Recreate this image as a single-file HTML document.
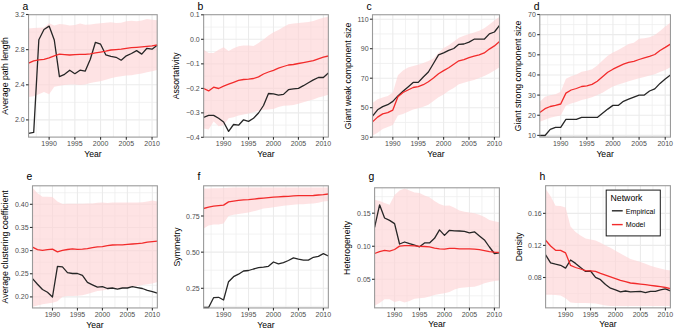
<!DOCTYPE html>
<html><head><meta charset="utf-8"><style>
html,body{margin:0;padding:0;background:#fff;}
svg{display:block;}
text{font-family:"Liberation Sans", sans-serif;}
</style></head><body>
<svg width="675" height="330" viewBox="0 0 675 330">
<rect width="675" height="330" fill="#fff"/>
<rect x="28.55" y="14.7" width="128.65" height="122.4" fill="#fff"/>
<line x1="28.55" x2="157.2" y1="102.35" y2="102.35" stroke="#efefef" stroke-width="0.8"/>
<line x1="28.55" x2="157.2" y1="67.22" y2="67.22" stroke="#efefef" stroke-width="0.8"/>
<line x1="28.55" x2="157.2" y1="32.08" y2="32.08" stroke="#efefef" stroke-width="0.8"/>
<line y1="14.7" y2="137.1" x1="36.27" x2="36.27" stroke="#efefef" stroke-width="0.8"/>
<line y1="14.7" y2="137.1" x1="62" x2="62" stroke="#efefef" stroke-width="0.8"/>
<line y1="14.7" y2="137.1" x1="87.73" x2="87.73" stroke="#efefef" stroke-width="0.8"/>
<line y1="14.7" y2="137.1" x1="113.46" x2="113.46" stroke="#efefef" stroke-width="0.8"/>
<line y1="14.7" y2="137.1" x1="139.19" x2="139.19" stroke="#efefef" stroke-width="0.8"/>
<line x1="28.55" x2="157.2" y1="119.9" y2="119.9" stroke="#ebebeb" stroke-width="1.1"/>
<line x1="28.55" x2="157.2" y1="84.8" y2="84.8" stroke="#ebebeb" stroke-width="1.1"/>
<line x1="28.55" x2="157.2" y1="49.65" y2="49.65" stroke="#ebebeb" stroke-width="1.1"/>
<line y1="14.7" y2="137.1" x1="49.13" x2="49.13" stroke="#ebebeb" stroke-width="1.1"/>
<line y1="14.7" y2="137.1" x1="74.86" x2="74.86" stroke="#ebebeb" stroke-width="1.1"/>
<line y1="14.7" y2="137.1" x1="100.59" x2="100.59" stroke="#ebebeb" stroke-width="1.1"/>
<line y1="14.7" y2="137.1" x1="126.32" x2="126.32" stroke="#ebebeb" stroke-width="1.1"/>
<line y1="14.7" y2="137.1" x1="152.05" x2="152.05" stroke="#ebebeb" stroke-width="1.1"/>
<polygon points="28.55,28.4 33.7,28.1 38.84,27.8 43.99,27.6 49.13,23.2 54.28,25.6 59.43,24 64.57,24.5 69.72,25.4 74.86,24.9 80.01,23.4 85.16,24.7 90.3,24.5 95.45,23.7 100.59,23.2 105.74,22.7 110.89,22.2 116.03,22.9 121.18,22.7 126.32,21.3 131.47,20.8 136.62,21.3 141.76,20.6 146.91,19 152.05,19.8 157.2,20.3 157.2,70 152.05,71.2 146.91,72.3 141.76,73.5 136.62,74.2 131.47,75.3 126.32,75.5 121.18,76.2 116.03,77 110.89,78.3 105.74,79.8 100.59,81.2 95.45,81.9 90.3,83 85.16,84.6 80.01,85 74.86,84.6 69.72,84.6 64.57,85 59.43,85.8 54.28,86.8 49.13,94.3 43.99,92 38.84,94.3 33.7,96.2 28.55,97.1" fill="#fdd4d5" fill-opacity="0.65"/>
<polyline points="28.55,133.3 33.7,132.4 38.84,39.7 43.99,29.5 49.13,26.1 54.28,40 59.43,76.6 64.57,74.3 69.72,70.2 74.86,73.7 80.01,70.2 85.16,71.2 90.3,59.3 95.45,42.3 100.59,44.2 105.74,54.8 110.89,56.4 116.03,57.3 121.18,60.2 126.32,55.8 131.47,53.5 136.62,50.6 141.76,54.1 146.91,48.3 152.05,49.2 157.2,45.2" fill="none" stroke="#262626" stroke-width="1.3" stroke-linejoin="round"/>
<polyline points="28.55,63.1 33.7,60.8 38.84,59.8 43.99,59.3 49.13,57.9 54.28,55.8 59.43,54.1 64.57,54.6 69.72,55 74.86,54.6 80.01,54.4 85.16,54.4 90.3,53.9 95.45,52.9 100.59,52.1 105.74,51.2 110.89,50 116.03,49.6 121.18,49.1 126.32,48.3 131.47,47.7 136.62,47.3 141.76,46.9 146.91,46.4 152.05,45.8 157.2,45" fill="none" stroke="#f22b2b" stroke-width="1.3" stroke-linejoin="round"/>
<rect x="28.55" y="14.7" width="128.65" height="122.4" fill="none" stroke="#9a9a9a" stroke-width="1.1"/>
<line x1="25.95" x2="28.55" y1="119.9" y2="119.9" stroke="#333333" stroke-width="1.1"/>
<text x="24.65" y="122.4" text-anchor="end" font-size="7" fill="#4d4d4d">2.0</text>
<line x1="25.95" x2="28.55" y1="84.8" y2="84.8" stroke="#333333" stroke-width="1.1"/>
<text x="24.65" y="87.3" text-anchor="end" font-size="7" fill="#4d4d4d">2.4</text>
<line x1="25.95" x2="28.55" y1="49.65" y2="49.65" stroke="#333333" stroke-width="1.1"/>
<text x="24.65" y="52.15" text-anchor="end" font-size="7" fill="#4d4d4d">2.8</text>
<line x1="25.95" x2="28.55" y1="14.5" y2="14.5" stroke="#333333" stroke-width="1.1"/>
<text x="24.65" y="17" text-anchor="end" font-size="7" fill="#4d4d4d">3.2</text>
<line y1="137.1" y2="139.7" x1="49.13" x2="49.13" stroke="#333333" stroke-width="1.1"/>
<text x="49.13" y="146.4" text-anchor="middle" font-size="7" fill="#4d4d4d">1990</text>
<line y1="137.1" y2="139.7" x1="74.86" x2="74.86" stroke="#333333" stroke-width="1.1"/>
<text x="74.86" y="146.4" text-anchor="middle" font-size="7" fill="#4d4d4d">1995</text>
<line y1="137.1" y2="139.7" x1="100.59" x2="100.59" stroke="#333333" stroke-width="1.1"/>
<text x="100.59" y="146.4" text-anchor="middle" font-size="7" fill="#4d4d4d">2000</text>
<line y1="137.1" y2="139.7" x1="126.32" x2="126.32" stroke="#333333" stroke-width="1.1"/>
<text x="126.32" y="146.4" text-anchor="middle" font-size="7" fill="#4d4d4d">2005</text>
<line y1="137.1" y2="139.7" x1="152.05" x2="152.05" stroke="#333333" stroke-width="1.1"/>
<text x="152.05" y="146.4" text-anchor="middle" font-size="7" fill="#4d4d4d">2010</text>
<text x="92.88" y="156.7" text-anchor="middle" font-size="8.6" fill="#000">Year</text>
<text transform="translate(8.2,75.9) rotate(-90)" text-anchor="middle" font-size="8.7" fill="#000">Average path length</text>
<text x="22.45" y="9.9" font-size="10.4" fill="#000">a</text>
<rect x="203.65" y="14.7" width="124.7" height="122.4" fill="#fff"/>
<line x1="203.65" x2="328.35" y1="125.08" y2="125.08" stroke="#efefef" stroke-width="0.8"/>
<line x1="203.65" x2="328.35" y1="100.62" y2="100.62" stroke="#efefef" stroke-width="0.8"/>
<line x1="203.65" x2="328.35" y1="76.12" y2="76.12" stroke="#efefef" stroke-width="0.8"/>
<line x1="203.65" x2="328.35" y1="51.58" y2="51.58" stroke="#efefef" stroke-width="0.8"/>
<line x1="203.65" x2="328.35" y1="27.05" y2="27.05" stroke="#efefef" stroke-width="0.8"/>
<line y1="14.7" y2="137.1" x1="211.13" x2="211.13" stroke="#efefef" stroke-width="0.8"/>
<line y1="14.7" y2="137.1" x1="236.07" x2="236.07" stroke="#efefef" stroke-width="0.8"/>
<line y1="14.7" y2="137.1" x1="261.01" x2="261.01" stroke="#efefef" stroke-width="0.8"/>
<line y1="14.7" y2="137.1" x1="285.95" x2="285.95" stroke="#efefef" stroke-width="0.8"/>
<line y1="14.7" y2="137.1" x1="310.89" x2="310.89" stroke="#efefef" stroke-width="0.8"/>
<line x1="203.65" x2="328.35" y1="112.85" y2="112.85" stroke="#ebebeb" stroke-width="1.1"/>
<line x1="203.65" x2="328.35" y1="88.4" y2="88.4" stroke="#ebebeb" stroke-width="1.1"/>
<line x1="203.65" x2="328.35" y1="63.85" y2="63.85" stroke="#ebebeb" stroke-width="1.1"/>
<line x1="203.65" x2="328.35" y1="39.3" y2="39.3" stroke="#ebebeb" stroke-width="1.1"/>
<line y1="14.7" y2="137.1" x1="223.6" x2="223.6" stroke="#ebebeb" stroke-width="1.1"/>
<line y1="14.7" y2="137.1" x1="248.54" x2="248.54" stroke="#ebebeb" stroke-width="1.1"/>
<line y1="14.7" y2="137.1" x1="273.48" x2="273.48" stroke="#ebebeb" stroke-width="1.1"/>
<line y1="14.7" y2="137.1" x1="298.42" x2="298.42" stroke="#ebebeb" stroke-width="1.1"/>
<line y1="14.7" y2="137.1" x1="323.36" x2="323.36" stroke="#ebebeb" stroke-width="1.1"/>
<polygon points="203.65,49.7 208.64,52.9 213.63,52.9 218.61,49.7 223.6,47.2 228.59,51 233.58,48.2 238.57,46.3 243.55,45.4 248.54,45.4 253.53,45.9 258.52,43.1 263.51,39.4 268.49,35.6 273.48,32.2 278.47,30 283.46,27.1 288.45,24.3 293.43,23.4 298.42,23 303.41,22.5 308.4,21.9 313.39,21.1 318.37,19.3 323.36,17.8 328.35,16.8 328.35,94.8 323.36,96.3 318.37,97.6 313.39,99.5 308.4,100.8 303.41,102.3 298.42,103.8 293.43,105.1 288.45,105.5 283.46,105.7 278.47,107 273.48,108.9 268.49,109.4 263.51,109.8 258.52,110.7 253.53,112.2 248.54,113.6 243.55,114.5 238.57,115.4 233.58,117.3 228.59,118.3 223.6,125.2 218.61,126.3 213.63,121.4 208.64,129.5 203.65,128.6" fill="#fdd4d5" fill-opacity="0.65"/>
<polyline points="203.65,117.3 208.64,115.4 213.63,115.4 218.61,118.3 223.6,122 228.59,131.4 233.58,124.5 238.57,125.2 243.55,119.8 248.54,121.4 253.53,118.3 258.52,113 263.51,105.5 268.49,93.5 273.48,93.9 278.47,95.1 283.46,94.4 288.45,89.7 293.43,88.9 298.42,88.3 303.41,85.7 308.4,82.7 313.39,79.9 318.37,77.5 323.36,77.5 328.35,73" fill="none" stroke="#262626" stroke-width="1.3" stroke-linejoin="round"/>
<polyline points="203.65,88.5 208.64,90.9 213.63,87.2 218.61,88.5 223.6,86.1 228.59,84.2 233.58,82.3 238.57,80.4 243.55,79.5 248.54,79.1 253.53,78.5 258.52,76.9 263.51,74 268.49,72 273.48,70.3 278.47,68.2 283.46,66.5 288.45,65 293.43,64.5 298.42,63.5 303.41,62.6 308.4,61.6 313.39,60.7 318.37,58.8 323.36,57.1 328.35,56" fill="none" stroke="#f22b2b" stroke-width="1.3" stroke-linejoin="round"/>
<rect x="203.65" y="14.7" width="124.7" height="122.4" fill="none" stroke="#9a9a9a" stroke-width="1.1"/>
<line x1="201.05" x2="203.65" y1="137.3" y2="137.3" stroke="#333333" stroke-width="1.1"/>
<text x="199.75" y="139.8" text-anchor="end" font-size="7" fill="#4d4d4d">−0.4</text>
<line x1="201.05" x2="203.65" y1="112.85" y2="112.85" stroke="#333333" stroke-width="1.1"/>
<text x="199.75" y="115.35" text-anchor="end" font-size="7" fill="#4d4d4d">−0.3</text>
<line x1="201.05" x2="203.65" y1="88.4" y2="88.4" stroke="#333333" stroke-width="1.1"/>
<text x="199.75" y="90.9" text-anchor="end" font-size="7" fill="#4d4d4d">−0.2</text>
<line x1="201.05" x2="203.65" y1="63.85" y2="63.85" stroke="#333333" stroke-width="1.1"/>
<text x="199.75" y="66.35" text-anchor="end" font-size="7" fill="#4d4d4d">−0.1</text>
<line x1="201.05" x2="203.65" y1="39.3" y2="39.3" stroke="#333333" stroke-width="1.1"/>
<text x="199.75" y="41.8" text-anchor="end" font-size="7" fill="#4d4d4d">0.0</text>
<line x1="201.05" x2="203.65" y1="14.8" y2="14.8" stroke="#333333" stroke-width="1.1"/>
<text x="199.75" y="17.3" text-anchor="end" font-size="7" fill="#4d4d4d">0.1</text>
<line y1="137.1" y2="139.7" x1="223.6" x2="223.6" stroke="#333333" stroke-width="1.1"/>
<text x="223.6" y="146.4" text-anchor="middle" font-size="7" fill="#4d4d4d">1990</text>
<line y1="137.1" y2="139.7" x1="248.54" x2="248.54" stroke="#333333" stroke-width="1.1"/>
<text x="248.54" y="146.4" text-anchor="middle" font-size="7" fill="#4d4d4d">1995</text>
<line y1="137.1" y2="139.7" x1="273.48" x2="273.48" stroke="#333333" stroke-width="1.1"/>
<text x="273.48" y="146.4" text-anchor="middle" font-size="7" fill="#4d4d4d">2000</text>
<line y1="137.1" y2="139.7" x1="298.42" x2="298.42" stroke="#333333" stroke-width="1.1"/>
<text x="298.42" y="146.4" text-anchor="middle" font-size="7" fill="#4d4d4d">2005</text>
<line y1="137.1" y2="139.7" x1="323.36" x2="323.36" stroke="#333333" stroke-width="1.1"/>
<text x="323.36" y="146.4" text-anchor="middle" font-size="7" fill="#4d4d4d">2010</text>
<text x="266" y="156.7" text-anchor="middle" font-size="8.6" fill="#000">Year</text>
<text transform="translate(179,75.9) rotate(-90)" text-anchor="middle" font-size="8.7" fill="#000">Assortativity</text>
<text x="197.55" y="9.9" font-size="10.4" fill="#000">b</text>
<rect x="372.5" y="14.75" width="127" height="122.35" fill="#fff"/>
<line x1="372.5" x2="499.5" y1="122.45" y2="122.45" stroke="#efefef" stroke-width="0.8"/>
<line x1="372.5" x2="499.5" y1="92.95" y2="92.95" stroke="#efefef" stroke-width="0.8"/>
<line x1="372.5" x2="499.5" y1="63.45" y2="63.45" stroke="#efefef" stroke-width="0.8"/>
<line x1="372.5" x2="499.5" y1="33.95" y2="33.95" stroke="#efefef" stroke-width="0.8"/>
<line y1="14.75" y2="137.1" x1="380.12" x2="380.12" stroke="#efefef" stroke-width="0.8"/>
<line y1="14.75" y2="137.1" x1="405.52" x2="405.52" stroke="#efefef" stroke-width="0.8"/>
<line y1="14.75" y2="137.1" x1="430.92" x2="430.92" stroke="#efefef" stroke-width="0.8"/>
<line y1="14.75" y2="137.1" x1="456.32" x2="456.32" stroke="#efefef" stroke-width="0.8"/>
<line y1="14.75" y2="137.1" x1="481.72" x2="481.72" stroke="#efefef" stroke-width="0.8"/>
<line x1="372.5" x2="499.5" y1="107.7" y2="107.7" stroke="#ebebeb" stroke-width="1.1"/>
<line x1="372.5" x2="499.5" y1="78.2" y2="78.2" stroke="#ebebeb" stroke-width="1.1"/>
<line x1="372.5" x2="499.5" y1="48.7" y2="48.7" stroke="#ebebeb" stroke-width="1.1"/>
<line x1="372.5" x2="499.5" y1="19.2" y2="19.2" stroke="#ebebeb" stroke-width="1.1"/>
<line y1="14.75" y2="137.1" x1="392.82" x2="392.82" stroke="#ebebeb" stroke-width="1.1"/>
<line y1="14.75" y2="137.1" x1="418.22" x2="418.22" stroke="#ebebeb" stroke-width="1.1"/>
<line y1="14.75" y2="137.1" x1="443.62" x2="443.62" stroke="#ebebeb" stroke-width="1.1"/>
<line y1="14.75" y2="137.1" x1="469.02" x2="469.02" stroke="#ebebeb" stroke-width="1.1"/>
<line y1="14.75" y2="137.1" x1="494.42" x2="494.42" stroke="#ebebeb" stroke-width="1.1"/>
<polygon points="372.5,103 377.58,99.2 382.66,97.5 387.74,96 392.82,92.5 397.9,75.2 402.98,70.4 408.06,67.6 413.14,66.1 418.22,64.8 423.3,63 428.38,61 433.46,58.6 438.54,52.9 443.62,48.1 448.7,45.3 453.78,41.5 458.86,37.7 463.94,35.8 469.02,33.9 474.1,32.4 479.18,30.7 484.26,28.2 489.34,24.4 494.42,20.6 499.5,16.8 499.5,67.3 494.42,70.6 489.34,73.5 484.26,76.1 479.18,78 474.1,79.9 469.02,81.2 463.94,82.8 458.86,84.3 453.78,88.1 448.7,90.8 443.62,94.4 438.54,97.2 433.46,101 428.38,104.8 423.3,106.7 418.22,108.2 413.14,109.6 408.06,111.8 402.98,114 397.9,115.5 392.82,125.1 387.74,127 382.66,128.9 377.58,132.7 372.5,135.5" fill="#fdd4d5" fill-opacity="0.65"/>
<polyline points="372.5,116.2 377.58,109.8 382.66,106.6 387.74,104.7 392.82,101.4 397.9,95.9 402.98,91.3 408.06,86.9 413.14,82.4 418.22,82.4 423.3,77 428.38,72 433.46,63.5 438.54,54.8 443.62,52.9 448.7,50.4 453.78,48.5 458.86,44.3 463.94,44 469.02,42.1 474.1,39.2 479.18,39.2 484.26,39.2 489.34,33.9 494.42,32 499.5,25.4" fill="none" stroke="#262626" stroke-width="1.3" stroke-linejoin="round"/>
<polyline points="372.5,121.9 377.58,117.1 382.66,113.9 387.74,112.6 392.82,110.1 397.9,96.8 402.98,92.5 408.06,90 413.14,87.5 418.22,86.6 423.3,84.7 428.38,81.8 433.46,78 438.54,73.7 443.62,70.6 448.7,67.8 453.78,64.3 458.86,60.8 463.94,59.6 469.02,57.6 474.1,56.1 479.18,54.8 484.26,52.9 489.34,49.1 494.42,45.9 499.5,41.5" fill="none" stroke="#f22b2b" stroke-width="1.3" stroke-linejoin="round"/>
<rect x="372.5" y="14.75" width="127" height="122.35" fill="none" stroke="#9a9a9a" stroke-width="1.1"/>
<line x1="369.9" x2="372.5" y1="137.2" y2="137.2" stroke="#333333" stroke-width="1.1"/>
<text x="368.6" y="139.7" text-anchor="end" font-size="7" fill="#4d4d4d">30</text>
<line x1="369.9" x2="372.5" y1="107.7" y2="107.7" stroke="#333333" stroke-width="1.1"/>
<text x="368.6" y="110.2" text-anchor="end" font-size="7" fill="#4d4d4d">50</text>
<line x1="369.9" x2="372.5" y1="78.2" y2="78.2" stroke="#333333" stroke-width="1.1"/>
<text x="368.6" y="80.7" text-anchor="end" font-size="7" fill="#4d4d4d">70</text>
<line x1="369.9" x2="372.5" y1="48.7" y2="48.7" stroke="#333333" stroke-width="1.1"/>
<text x="368.6" y="51.2" text-anchor="end" font-size="7" fill="#4d4d4d">90</text>
<line x1="369.9" x2="372.5" y1="19.2" y2="19.2" stroke="#333333" stroke-width="1.1"/>
<text x="368.6" y="21.7" text-anchor="end" font-size="7" fill="#4d4d4d">110</text>
<line y1="137.1" y2="139.7" x1="392.82" x2="392.82" stroke="#333333" stroke-width="1.1"/>
<text x="392.82" y="146.4" text-anchor="middle" font-size="7" fill="#4d4d4d">1990</text>
<line y1="137.1" y2="139.7" x1="418.22" x2="418.22" stroke="#333333" stroke-width="1.1"/>
<text x="418.22" y="146.4" text-anchor="middle" font-size="7" fill="#4d4d4d">1995</text>
<line y1="137.1" y2="139.7" x1="443.62" x2="443.62" stroke="#333333" stroke-width="1.1"/>
<text x="443.62" y="146.4" text-anchor="middle" font-size="7" fill="#4d4d4d">2000</text>
<line y1="137.1" y2="139.7" x1="469.02" x2="469.02" stroke="#333333" stroke-width="1.1"/>
<text x="469.02" y="146.4" text-anchor="middle" font-size="7" fill="#4d4d4d">2005</text>
<line y1="137.1" y2="139.7" x1="494.42" x2="494.42" stroke="#333333" stroke-width="1.1"/>
<text x="494.42" y="146.4" text-anchor="middle" font-size="7" fill="#4d4d4d">2010</text>
<text x="436" y="156.7" text-anchor="middle" font-size="8.6" fill="#000">Year</text>
<text transform="translate(350.7,75.92) rotate(-90)" text-anchor="middle" font-size="8.7" fill="#000">Giant weak component size</text>
<text x="366.4" y="9.9" font-size="10.4" fill="#000">c</text>
<rect x="539.8" y="14.75" width="130.65" height="122.35" fill="#fff"/>
<line x1="539.8" x2="670.45" y1="125.33" y2="125.33" stroke="#efefef" stroke-width="0.8"/>
<line x1="539.8" x2="670.45" y1="105.17" y2="105.17" stroke="#efefef" stroke-width="0.8"/>
<line x1="539.8" x2="670.45" y1="85.03" y2="85.03" stroke="#efefef" stroke-width="0.8"/>
<line x1="539.8" x2="670.45" y1="64.88" y2="64.88" stroke="#efefef" stroke-width="0.8"/>
<line x1="539.8" x2="670.45" y1="44.72" y2="44.72" stroke="#efefef" stroke-width="0.8"/>
<line x1="539.8" x2="670.45" y1="24.57" y2="24.57" stroke="#efefef" stroke-width="0.8"/>
<line y1="14.75" y2="137.1" x1="547.64" x2="547.64" stroke="#efefef" stroke-width="0.8"/>
<line y1="14.75" y2="137.1" x1="573.77" x2="573.77" stroke="#efefef" stroke-width="0.8"/>
<line y1="14.75" y2="137.1" x1="599.9" x2="599.9" stroke="#efefef" stroke-width="0.8"/>
<line y1="14.75" y2="137.1" x1="626.03" x2="626.03" stroke="#efefef" stroke-width="0.8"/>
<line y1="14.75" y2="137.1" x1="652.16" x2="652.16" stroke="#efefef" stroke-width="0.8"/>
<line x1="539.8" x2="670.45" y1="135.4" y2="135.4" stroke="#ebebeb" stroke-width="1.1"/>
<line x1="539.8" x2="670.45" y1="115.25" y2="115.25" stroke="#ebebeb" stroke-width="1.1"/>
<line x1="539.8" x2="670.45" y1="95.1" y2="95.1" stroke="#ebebeb" stroke-width="1.1"/>
<line x1="539.8" x2="670.45" y1="74.95" y2="74.95" stroke="#ebebeb" stroke-width="1.1"/>
<line x1="539.8" x2="670.45" y1="54.8" y2="54.8" stroke="#ebebeb" stroke-width="1.1"/>
<line x1="539.8" x2="670.45" y1="34.65" y2="34.65" stroke="#ebebeb" stroke-width="1.1"/>
<line y1="14.75" y2="137.1" x1="560.7" x2="560.7" stroke="#ebebeb" stroke-width="1.1"/>
<line y1="14.75" y2="137.1" x1="586.83" x2="586.83" stroke="#ebebeb" stroke-width="1.1"/>
<line y1="14.75" y2="137.1" x1="612.96" x2="612.96" stroke="#ebebeb" stroke-width="1.1"/>
<line y1="14.75" y2="137.1" x1="639.09" x2="639.09" stroke="#ebebeb" stroke-width="1.1"/>
<line y1="14.75" y2="137.1" x1="665.22" x2="665.22" stroke="#ebebeb" stroke-width="1.1"/>
<polygon points="539.8,101.8 545.03,96.8 550.25,95.3 555.48,94.3 560.7,91.8 565.93,78.8 571.16,76.2 576.38,74.5 581.61,71.7 586.83,70.8 592.06,69.3 597.29,65.4 602.51,60.6 607.74,55.7 612.96,52.4 618.19,49.9 623.42,47 628.64,44.1 633.87,42.7 639.09,38.8 644.32,38.3 649.55,37.3 654.77,35 660,31.1 665.22,26.6 670.45,22.7 670.45,67.2 665.22,70 660,72 654.77,74.2 649.55,75.5 644.32,76.9 639.09,78.3 633.87,79.7 628.64,81.3 623.42,83 618.19,84.6 612.96,86.6 607.74,89.6 602.51,92.7 597.29,95.1 592.06,97.2 586.83,98.8 581.61,99.9 576.38,101.9 571.16,103.4 565.93,105.6 560.7,115.4 555.48,116.4 550.25,117.8 545.03,119.8 539.8,121.8" fill="#fdd4d5" fill-opacity="0.65"/>
<polyline points="539.8,135.5 545.03,135.5 550.25,129.3 555.48,127.3 560.7,127.3 565.93,119.4 571.16,119.4 576.38,119.4 581.61,117.4 586.83,117.4 592.06,117.4 597.29,117.4 602.51,113.3 607.74,109.1 612.96,105.4 618.19,105.4 623.42,101.3 628.64,99.2 633.87,97.2 639.09,95.1 644.32,95.1 649.55,91 654.77,88.9 660,83.4 665.22,79 670.45,75" fill="none" stroke="#262626" stroke-width="1.3" stroke-linejoin="round"/>
<polyline points="539.8,112.6 545.03,108.7 550.25,106.5 555.48,105.4 560.7,104 565.93,93.1 571.16,90 576.38,88.5 581.61,86.5 586.83,85.9 592.06,84.4 597.29,81.3 602.51,76.8 607.74,72.3 612.96,69.2 618.19,66.6 623.42,64.2 628.64,62.3 633.87,61.3 639.09,59.5 644.32,57.8 649.55,56.3 654.77,54.5 660,50.5 665.22,47.4 670.45,44.1" fill="none" stroke="#f22b2b" stroke-width="1.3" stroke-linejoin="round"/>
<rect x="539.8" y="14.75" width="130.65" height="122.35" fill="none" stroke="#9a9a9a" stroke-width="1.1"/>
<line x1="537.2" x2="539.8" y1="135.4" y2="135.4" stroke="#333333" stroke-width="1.1"/>
<text x="535.9" y="137.9" text-anchor="end" font-size="7" fill="#4d4d4d">10</text>
<line x1="537.2" x2="539.8" y1="115.25" y2="115.25" stroke="#333333" stroke-width="1.1"/>
<text x="535.9" y="117.75" text-anchor="end" font-size="7" fill="#4d4d4d">20</text>
<line x1="537.2" x2="539.8" y1="95.1" y2="95.1" stroke="#333333" stroke-width="1.1"/>
<text x="535.9" y="97.6" text-anchor="end" font-size="7" fill="#4d4d4d">30</text>
<line x1="537.2" x2="539.8" y1="74.95" y2="74.95" stroke="#333333" stroke-width="1.1"/>
<text x="535.9" y="77.45" text-anchor="end" font-size="7" fill="#4d4d4d">40</text>
<line x1="537.2" x2="539.8" y1="54.8" y2="54.8" stroke="#333333" stroke-width="1.1"/>
<text x="535.9" y="57.3" text-anchor="end" font-size="7" fill="#4d4d4d">50</text>
<line x1="537.2" x2="539.8" y1="34.65" y2="34.65" stroke="#333333" stroke-width="1.1"/>
<text x="535.9" y="37.15" text-anchor="end" font-size="7" fill="#4d4d4d">60</text>
<line x1="537.2" x2="539.8" y1="14.5" y2="14.5" stroke="#333333" stroke-width="1.1"/>
<text x="535.9" y="17" text-anchor="end" font-size="7" fill="#4d4d4d">70</text>
<line y1="137.1" y2="139.7" x1="560.7" x2="560.7" stroke="#333333" stroke-width="1.1"/>
<text x="560.7" y="146.4" text-anchor="middle" font-size="7" fill="#4d4d4d">1990</text>
<line y1="137.1" y2="139.7" x1="586.83" x2="586.83" stroke="#333333" stroke-width="1.1"/>
<text x="586.83" y="146.4" text-anchor="middle" font-size="7" fill="#4d4d4d">1995</text>
<line y1="137.1" y2="139.7" x1="612.96" x2="612.96" stroke="#333333" stroke-width="1.1"/>
<text x="612.96" y="146.4" text-anchor="middle" font-size="7" fill="#4d4d4d">2000</text>
<line y1="137.1" y2="139.7" x1="639.09" x2="639.09" stroke="#333333" stroke-width="1.1"/>
<text x="639.09" y="146.4" text-anchor="middle" font-size="7" fill="#4d4d4d">2005</text>
<line y1="137.1" y2="139.7" x1="665.22" x2="665.22" stroke="#333333" stroke-width="1.1"/>
<text x="665.22" y="146.4" text-anchor="middle" font-size="7" fill="#4d4d4d">2010</text>
<text x="605.12" y="156.7" text-anchor="middle" font-size="8.6" fill="#000">Year</text>
<text transform="translate(521.1,75.92) rotate(-90)" text-anchor="middle" font-size="8.7" fill="#000">Giant strong component size</text>
<text x="533.7" y="9.9" font-size="10.4" fill="#000">d</text>
<rect x="32.5" y="185.8" width="124.85" height="122.15" fill="#fff"/>
<line x1="32.5" x2="157.35" y1="285.32" y2="285.32" stroke="#efefef" stroke-width="0.8"/>
<line x1="32.5" x2="157.35" y1="262.18" y2="262.18" stroke="#efefef" stroke-width="0.8"/>
<line x1="32.5" x2="157.35" y1="239.02" y2="239.02" stroke="#efefef" stroke-width="0.8"/>
<line x1="32.5" x2="157.35" y1="215.88" y2="215.88" stroke="#efefef" stroke-width="0.8"/>
<line x1="32.5" x2="157.35" y1="192.73" y2="192.73" stroke="#efefef" stroke-width="0.8"/>
<line y1="185.8" y2="307.95" x1="39.99" x2="39.99" stroke="#efefef" stroke-width="0.8"/>
<line y1="185.8" y2="307.95" x1="64.96" x2="64.96" stroke="#efefef" stroke-width="0.8"/>
<line y1="185.8" y2="307.95" x1="89.93" x2="89.93" stroke="#efefef" stroke-width="0.8"/>
<line y1="185.8" y2="307.95" x1="114.9" x2="114.9" stroke="#efefef" stroke-width="0.8"/>
<line y1="185.8" y2="307.95" x1="139.87" x2="139.87" stroke="#efefef" stroke-width="0.8"/>
<line x1="32.5" x2="157.35" y1="296.9" y2="296.9" stroke="#ebebeb" stroke-width="1.1"/>
<line x1="32.5" x2="157.35" y1="273.75" y2="273.75" stroke="#ebebeb" stroke-width="1.1"/>
<line x1="32.5" x2="157.35" y1="250.6" y2="250.6" stroke="#ebebeb" stroke-width="1.1"/>
<line x1="32.5" x2="157.35" y1="227.45" y2="227.45" stroke="#ebebeb" stroke-width="1.1"/>
<line x1="32.5" x2="157.35" y1="204.3" y2="204.3" stroke="#ebebeb" stroke-width="1.1"/>
<line y1="185.8" y2="307.95" x1="52.48" x2="52.48" stroke="#ebebeb" stroke-width="1.1"/>
<line y1="185.8" y2="307.95" x1="77.45" x2="77.45" stroke="#ebebeb" stroke-width="1.1"/>
<line y1="185.8" y2="307.95" x1="102.42" x2="102.42" stroke="#ebebeb" stroke-width="1.1"/>
<line y1="185.8" y2="307.95" x1="127.39" x2="127.39" stroke="#ebebeb" stroke-width="1.1"/>
<line y1="185.8" y2="307.95" x1="152.36" x2="152.36" stroke="#ebebeb" stroke-width="1.1"/>
<polygon points="32.5,187.8 37.49,193.3 42.49,196.8 47.48,196.8 52.48,196.9 57.47,201.5 62.46,204.1 67.46,203.8 72.45,203.8 77.45,203.8 82.44,203.8 87.43,203.6 92.43,203.4 97.42,202.8 102.42,202.5 107.41,203 112.4,202.5 117.4,202.5 122.39,202.5 127.39,202.5 132.38,202.5 137.37,202.5 142.37,202.3 147.36,201.5 152.36,200.4 157.35,201.5 157.35,282.1 152.36,283.4 147.36,284.3 142.37,285 137.37,285.9 132.38,287 127.39,287.7 122.39,288.5 117.4,288.7 112.4,288.7 107.41,289.6 102.42,290.5 97.42,290.9 92.43,292.4 87.43,293.9 82.44,295.2 77.45,295.8 72.45,296.1 67.46,296.1 62.46,296.7 57.47,301.3 52.48,302.7 47.48,303.4 42.49,304.2 37.49,305.4 32.5,306.7" fill="#fdd4d5" fill-opacity="0.65"/>
<polyline points="32.5,278.6 37.49,284.2 42.49,289.5 47.48,292.3 52.48,297 57.47,266.4 62.46,266.9 67.46,272.6 72.45,273.5 77.45,273.5 82.44,275.4 87.43,282.3 92.43,284.8 97.42,287.2 102.42,286.6 107.41,288.5 112.4,288 117.4,289.1 122.39,288 127.39,288 132.38,286.6 137.37,287.6 142.37,288.5 147.36,290.4 152.36,291.7 157.35,293.2" fill="none" stroke="#262626" stroke-width="1.3" stroke-linejoin="round"/>
<polyline points="32.5,247.2 37.49,249.6 42.49,250.4 47.48,249.6 52.48,249.1 57.47,251.9 62.46,250.4 67.46,249.5 72.45,248.9 77.45,249.3 82.44,249.1 87.43,248.7 92.43,247.6 97.42,246.8 102.42,246.6 107.41,245.7 112.4,245 117.4,244.8 122.39,244.8 127.39,244.4 132.38,244 137.37,243.6 142.37,243.1 147.36,242.1 152.36,241.6 157.35,241.2" fill="none" stroke="#f22b2b" stroke-width="1.3" stroke-linejoin="round"/>
<rect x="32.5" y="185.8" width="124.85" height="122.15" fill="none" stroke="#9a9a9a" stroke-width="1.1"/>
<line x1="29.9" x2="32.5" y1="296.9" y2="296.9" stroke="#333333" stroke-width="1.1"/>
<text x="28.6" y="299.4" text-anchor="end" font-size="7" fill="#4d4d4d">0.20</text>
<line x1="29.9" x2="32.5" y1="273.75" y2="273.75" stroke="#333333" stroke-width="1.1"/>
<text x="28.6" y="276.25" text-anchor="end" font-size="7" fill="#4d4d4d">0.25</text>
<line x1="29.9" x2="32.5" y1="250.6" y2="250.6" stroke="#333333" stroke-width="1.1"/>
<text x="28.6" y="253.1" text-anchor="end" font-size="7" fill="#4d4d4d">0.30</text>
<line x1="29.9" x2="32.5" y1="227.45" y2="227.45" stroke="#333333" stroke-width="1.1"/>
<text x="28.6" y="229.95" text-anchor="end" font-size="7" fill="#4d4d4d">0.35</text>
<line x1="29.9" x2="32.5" y1="204.3" y2="204.3" stroke="#333333" stroke-width="1.1"/>
<text x="28.6" y="206.8" text-anchor="end" font-size="7" fill="#4d4d4d">0.40</text>
<line y1="307.95" y2="310.55" x1="52.48" x2="52.48" stroke="#333333" stroke-width="1.1"/>
<text x="52.48" y="317.25" text-anchor="middle" font-size="7" fill="#4d4d4d">1990</text>
<line y1="307.95" y2="310.55" x1="77.45" x2="77.45" stroke="#333333" stroke-width="1.1"/>
<text x="77.45" y="317.25" text-anchor="middle" font-size="7" fill="#4d4d4d">1995</text>
<line y1="307.95" y2="310.55" x1="102.42" x2="102.42" stroke="#333333" stroke-width="1.1"/>
<text x="102.42" y="317.25" text-anchor="middle" font-size="7" fill="#4d4d4d">2000</text>
<line y1="307.95" y2="310.55" x1="127.39" x2="127.39" stroke="#333333" stroke-width="1.1"/>
<text x="127.39" y="317.25" text-anchor="middle" font-size="7" fill="#4d4d4d">2005</text>
<line y1="307.95" y2="310.55" x1="152.36" x2="152.36" stroke="#333333" stroke-width="1.1"/>
<text x="152.36" y="317.25" text-anchor="middle" font-size="7" fill="#4d4d4d">2010</text>
<text x="94.92" y="327.55" text-anchor="middle" font-size="8.6" fill="#000">Year</text>
<text transform="translate(8.2,246.88) rotate(-90)" text-anchor="middle" font-size="8.7" fill="#000">Average clustering coefficient</text>
<text x="26.4" y="180.1" font-size="10.4" fill="#000">e</text>
<rect x="203.6" y="185.8" width="124.75" height="122.15" fill="#fff"/>
<line x1="203.6" x2="328.35" y1="270.23" y2="270.23" stroke="#efefef" stroke-width="0.8"/>
<line x1="203.6" x2="328.35" y1="234.07" y2="234.07" stroke="#efefef" stroke-width="0.8"/>
<line x1="203.6" x2="328.35" y1="306.38" y2="306.38" stroke="#efefef" stroke-width="0.8"/>
<line x1="203.6" x2="328.35" y1="197.93" y2="197.93" stroke="#efefef" stroke-width="0.8"/>
<line y1="185.8" y2="307.95" x1="211.09" x2="211.09" stroke="#efefef" stroke-width="0.8"/>
<line y1="185.8" y2="307.95" x1="236.03" x2="236.03" stroke="#efefef" stroke-width="0.8"/>
<line y1="185.8" y2="307.95" x1="260.99" x2="260.99" stroke="#efefef" stroke-width="0.8"/>
<line y1="185.8" y2="307.95" x1="285.94" x2="285.94" stroke="#efefef" stroke-width="0.8"/>
<line y1="185.8" y2="307.95" x1="310.88" x2="310.88" stroke="#efefef" stroke-width="0.8"/>
<line x1="203.6" x2="328.35" y1="288.3" y2="288.3" stroke="#ebebeb" stroke-width="1.1"/>
<line x1="203.6" x2="328.35" y1="252.15" y2="252.15" stroke="#ebebeb" stroke-width="1.1"/>
<line x1="203.6" x2="328.35" y1="216" y2="216" stroke="#ebebeb" stroke-width="1.1"/>
<line y1="185.8" y2="307.95" x1="223.56" x2="223.56" stroke="#ebebeb" stroke-width="1.1"/>
<line y1="185.8" y2="307.95" x1="248.51" x2="248.51" stroke="#ebebeb" stroke-width="1.1"/>
<line y1="185.8" y2="307.95" x1="273.46" x2="273.46" stroke="#ebebeb" stroke-width="1.1"/>
<line y1="185.8" y2="307.95" x1="298.41" x2="298.41" stroke="#ebebeb" stroke-width="1.1"/>
<line y1="185.8" y2="307.95" x1="323.36" x2="323.36" stroke="#ebebeb" stroke-width="1.1"/>
<polygon points="203.6,188.4 208.59,188.4 213.58,188.3 218.57,188.2 223.56,188 228.55,187.7 233.54,187.6 238.53,187.6 243.52,187.6 248.51,187.6 253.5,187.6 258.49,187.6 263.48,187.6 268.47,187.6 273.46,187.6 278.45,187.6 283.44,187.6 288.43,187.6 293.42,187.6 298.41,187.6 303.4,187.6 308.39,187.6 313.38,187.6 318.37,187.6 323.36,187.6 328.35,187.6 328.35,201 323.36,201.5 318.37,202.8 313.38,203.4 308.39,203.8 303.4,204.2 298.41,204.3 293.42,204.7 288.43,205.3 283.44,205.7 278.45,206.6 273.46,207.2 268.47,207.9 263.48,208.5 258.49,210 253.5,211.3 248.51,212.6 243.52,213.2 238.53,214.1 233.54,214.7 228.55,216 223.56,223.5 218.57,224.4 213.58,224.4 208.59,225.4 203.6,228.6" fill="#fdd4d5" fill-opacity="0.65"/>
<polyline points="203.6,307.5 208.59,307.5 213.58,297.7 218.57,297.3 223.56,300 228.55,281.7 233.54,276.7 238.53,274.2 243.52,271 248.51,270.5 253.5,269 258.49,267.7 263.48,267.1 268.47,266.3 273.46,262 278.45,263.9 283.44,262.6 288.43,260.5 293.42,257.9 298.41,259.2 303.4,260.1 308.39,260.1 313.38,257.3 318.37,256.4 323.36,253.6 328.35,256" fill="none" stroke="#262626" stroke-width="1.3" stroke-linejoin="round"/>
<polyline points="203.6,208.5 208.59,207.2 213.58,206.2 218.57,205.7 223.56,205.1 228.55,201.9 233.54,201.2 238.53,200.4 243.52,199.8 248.51,199.6 253.5,199.1 258.49,198.5 263.48,198.1 268.47,197.6 273.46,197.2 278.45,196.8 283.44,196.5 288.43,196.3 293.42,195.9 298.41,195.7 303.4,195.7 308.39,195.7 313.38,195.5 318.37,195 323.36,194.6 328.35,194" fill="none" stroke="#f22b2b" stroke-width="1.3" stroke-linejoin="round"/>
<rect x="203.6" y="185.8" width="124.75" height="122.15" fill="none" stroke="#9a9a9a" stroke-width="1.1"/>
<line x1="201" x2="203.6" y1="288.3" y2="288.3" stroke="#333333" stroke-width="1.1"/>
<text x="199.7" y="290.8" text-anchor="end" font-size="7" fill="#4d4d4d">0.25</text>
<line x1="201" x2="203.6" y1="252.15" y2="252.15" stroke="#333333" stroke-width="1.1"/>
<text x="199.7" y="254.65" text-anchor="end" font-size="7" fill="#4d4d4d">0.50</text>
<line x1="201" x2="203.6" y1="216" y2="216" stroke="#333333" stroke-width="1.1"/>
<text x="199.7" y="218.5" text-anchor="end" font-size="7" fill="#4d4d4d">0.75</text>
<line y1="307.95" y2="310.55" x1="223.56" x2="223.56" stroke="#333333" stroke-width="1.1"/>
<text x="223.56" y="317.25" text-anchor="middle" font-size="7" fill="#4d4d4d">1990</text>
<line y1="307.95" y2="310.55" x1="248.51" x2="248.51" stroke="#333333" stroke-width="1.1"/>
<text x="248.51" y="317.25" text-anchor="middle" font-size="7" fill="#4d4d4d">1995</text>
<line y1="307.95" y2="310.55" x1="273.46" x2="273.46" stroke="#333333" stroke-width="1.1"/>
<text x="273.46" y="317.25" text-anchor="middle" font-size="7" fill="#4d4d4d">2000</text>
<line y1="307.95" y2="310.55" x1="298.41" x2="298.41" stroke="#333333" stroke-width="1.1"/>
<text x="298.41" y="317.25" text-anchor="middle" font-size="7" fill="#4d4d4d">2005</text>
<line y1="307.95" y2="310.55" x1="323.36" x2="323.36" stroke="#333333" stroke-width="1.1"/>
<text x="323.36" y="317.25" text-anchor="middle" font-size="7" fill="#4d4d4d">2010</text>
<text x="265.98" y="327.55" text-anchor="middle" font-size="8.6" fill="#000">Year</text>
<text transform="translate(179.6,246.88) rotate(-90)" text-anchor="middle" font-size="8.7" fill="#000">Symmetry</text>
<text x="197.5" y="180.1" font-size="10.4" fill="#000">f</text>
<rect x="374.6" y="187.8" width="124.8" height="120.05" fill="#fff"/>
<line x1="374.6" x2="499.4" y1="262.77" y2="262.77" stroke="#efefef" stroke-width="0.8"/>
<line x1="374.6" x2="499.4" y1="229.72" y2="229.72" stroke="#efefef" stroke-width="0.8"/>
<line x1="374.6" x2="499.4" y1="295.83" y2="295.83" stroke="#efefef" stroke-width="0.8"/>
<line x1="374.6" x2="499.4" y1="196.67" y2="196.67" stroke="#efefef" stroke-width="0.8"/>
<line y1="187.8" y2="307.85" x1="382.09" x2="382.09" stroke="#efefef" stroke-width="0.8"/>
<line y1="187.8" y2="307.85" x1="407.05" x2="407.05" stroke="#efefef" stroke-width="0.8"/>
<line y1="187.8" y2="307.85" x1="432.01" x2="432.01" stroke="#efefef" stroke-width="0.8"/>
<line y1="187.8" y2="307.85" x1="456.97" x2="456.97" stroke="#efefef" stroke-width="0.8"/>
<line y1="187.8" y2="307.85" x1="481.93" x2="481.93" stroke="#efefef" stroke-width="0.8"/>
<line x1="374.6" x2="499.4" y1="279.3" y2="279.3" stroke="#ebebeb" stroke-width="1.1"/>
<line x1="374.6" x2="499.4" y1="246.25" y2="246.25" stroke="#ebebeb" stroke-width="1.1"/>
<line x1="374.6" x2="499.4" y1="213.2" y2="213.2" stroke="#ebebeb" stroke-width="1.1"/>
<line y1="187.8" y2="307.85" x1="394.57" x2="394.57" stroke="#ebebeb" stroke-width="1.1"/>
<line y1="187.8" y2="307.85" x1="419.53" x2="419.53" stroke="#ebebeb" stroke-width="1.1"/>
<line y1="187.8" y2="307.85" x1="444.49" x2="444.49" stroke="#ebebeb" stroke-width="1.1"/>
<line y1="187.8" y2="307.85" x1="469.45" x2="469.45" stroke="#ebebeb" stroke-width="1.1"/>
<line y1="187.8" y2="307.85" x1="494.41" x2="494.41" stroke="#ebebeb" stroke-width="1.1"/>
<polygon points="374.6,199.8 379.59,201.1 384.58,203 389.58,204.8 394.57,194.9 399.56,190.4 404.55,188.5 409.54,190.4 414.54,192.6 419.53,193 424.52,195.5 429.51,197.3 434.5,201.1 439.5,203.9 444.49,205.8 449.48,205.4 454.47,207.7 459.46,210.5 464.46,211.8 469.45,212.4 474.44,213.3 479.43,214.8 484.42,217 489.42,219.9 494.41,221.2 499.4,222.3 499.4,280.5 494.41,280.9 489.42,282 484.42,283.3 479.43,285.2 474.44,286.7 469.45,287.1 464.46,287.4 459.46,288 454.47,289.5 449.48,292.1 444.49,293.2 439.5,294 434.5,295.1 429.51,296.4 424.52,297.7 419.53,298.3 414.54,298.8 409.54,301.1 404.55,302.6 399.56,300.7 394.57,302 389.58,299.2 384.58,299.2 379.59,302.9 374.6,305.7" fill="#fdd4d5" fill-opacity="0.65"/>
<polyline points="374.6,227.4 379.59,204.8 384.58,218 389.58,220.4 394.57,223.6 399.56,244 404.55,242 409.54,243.7 414.54,245.1 419.53,246.8 424.52,242.9 429.51,242.9 434.5,238.3 439.5,229.9 444.49,235.4 449.48,230.3 454.47,230.9 459.46,231 464.46,231.3 469.45,232.9 474.44,231.8 479.43,235.9 484.42,239.9 489.42,247 494.41,253.5 499.4,252.9" fill="none" stroke="#262626" stroke-width="1.3" stroke-linejoin="round"/>
<polyline points="374.6,253.5 379.59,251.6 384.58,250.3 389.58,251.2 394.57,249.5 399.56,246.1 404.55,245.6 409.54,245.6 414.54,245.9 419.53,246.3 424.52,246.5 429.51,246.9 434.5,248.2 439.5,248.8 444.49,249.2 449.48,248.4 454.47,248.4 459.46,248.8 464.46,248.8 469.45,248.8 474.44,249.2 479.43,249.7 484.42,250.7 489.42,251.6 494.41,252.2 499.4,252.5" fill="none" stroke="#f22b2b" stroke-width="1.3" stroke-linejoin="round"/>
<rect x="374.6" y="187.8" width="124.8" height="120.05" fill="none" stroke="#9a9a9a" stroke-width="1.1"/>
<line x1="372" x2="374.6" y1="279.3" y2="279.3" stroke="#333333" stroke-width="1.1"/>
<text x="370.7" y="281.8" text-anchor="end" font-size="7" fill="#4d4d4d">0.05</text>
<line x1="372" x2="374.6" y1="246.25" y2="246.25" stroke="#333333" stroke-width="1.1"/>
<text x="370.7" y="248.75" text-anchor="end" font-size="7" fill="#4d4d4d">0.10</text>
<line x1="372" x2="374.6" y1="213.2" y2="213.2" stroke="#333333" stroke-width="1.1"/>
<text x="370.7" y="215.7" text-anchor="end" font-size="7" fill="#4d4d4d">0.15</text>
<line y1="307.85" y2="310.45" x1="394.57" x2="394.57" stroke="#333333" stroke-width="1.1"/>
<text x="394.57" y="317.15" text-anchor="middle" font-size="7" fill="#4d4d4d">1990</text>
<line y1="307.85" y2="310.45" x1="419.53" x2="419.53" stroke="#333333" stroke-width="1.1"/>
<text x="419.53" y="317.15" text-anchor="middle" font-size="7" fill="#4d4d4d">1995</text>
<line y1="307.85" y2="310.45" x1="444.49" x2="444.49" stroke="#333333" stroke-width="1.1"/>
<text x="444.49" y="317.15" text-anchor="middle" font-size="7" fill="#4d4d4d">2000</text>
<line y1="307.85" y2="310.45" x1="469.45" x2="469.45" stroke="#333333" stroke-width="1.1"/>
<text x="469.45" y="317.15" text-anchor="middle" font-size="7" fill="#4d4d4d">2005</text>
<line y1="307.85" y2="310.45" x1="494.41" x2="494.41" stroke="#333333" stroke-width="1.1"/>
<text x="494.41" y="317.15" text-anchor="middle" font-size="7" fill="#4d4d4d">2010</text>
<text x="437" y="327.45" text-anchor="middle" font-size="8.6" fill="#000">Year</text>
<text transform="translate(350.1,247.83) rotate(-90)" text-anchor="middle" font-size="8.7" fill="#000">Heterogeneity</text>
<text x="368.5" y="180.1" font-size="10.4" fill="#000">g</text>
<rect x="545.6" y="185.7" width="124.8" height="122.15" fill="#fff"/>
<line x1="545.6" x2="670.4" y1="261.45" y2="261.45" stroke="#efefef" stroke-width="0.8"/>
<line x1="545.6" x2="670.4" y1="229.38" y2="229.38" stroke="#efefef" stroke-width="0.8"/>
<line x1="545.6" x2="670.4" y1="293.55" y2="293.55" stroke="#efefef" stroke-width="0.8"/>
<line x1="545.6" x2="670.4" y1="197.3" y2="197.3" stroke="#efefef" stroke-width="0.8"/>
<line y1="185.7" y2="307.85" x1="553.09" x2="553.09" stroke="#efefef" stroke-width="0.8"/>
<line y1="185.7" y2="307.85" x1="578.05" x2="578.05" stroke="#efefef" stroke-width="0.8"/>
<line y1="185.7" y2="307.85" x1="603.01" x2="603.01" stroke="#efefef" stroke-width="0.8"/>
<line y1="185.7" y2="307.85" x1="627.97" x2="627.97" stroke="#efefef" stroke-width="0.8"/>
<line y1="185.7" y2="307.85" x1="652.93" x2="652.93" stroke="#efefef" stroke-width="0.8"/>
<line x1="545.6" x2="670.4" y1="277.5" y2="277.5" stroke="#ebebeb" stroke-width="1.1"/>
<line x1="545.6" x2="670.4" y1="245.4" y2="245.4" stroke="#ebebeb" stroke-width="1.1"/>
<line x1="545.6" x2="670.4" y1="213.35" y2="213.35" stroke="#ebebeb" stroke-width="1.1"/>
<line y1="185.7" y2="307.85" x1="565.57" x2="565.57" stroke="#ebebeb" stroke-width="1.1"/>
<line y1="185.7" y2="307.85" x1="590.53" x2="590.53" stroke="#ebebeb" stroke-width="1.1"/>
<line y1="185.7" y2="307.85" x1="615.49" x2="615.49" stroke="#ebebeb" stroke-width="1.1"/>
<line y1="185.7" y2="307.85" x1="640.45" x2="640.45" stroke="#ebebeb" stroke-width="1.1"/>
<line y1="185.7" y2="307.85" x1="665.41" x2="665.41" stroke="#ebebeb" stroke-width="1.1"/>
<polygon points="545.6,188.8 550.59,196.3 555.58,205.7 560.58,206 565.57,207.5 570.56,226.5 575.55,232 580.54,235.5 585.54,238.5 590.53,239.5 595.52,240.5 600.51,242.7 605.5,245.4 610.5,247.8 615.49,250.7 620.48,253.5 625.47,256.3 630.46,259.1 635.46,260.4 640.45,261.9 645.44,263.8 650.43,265.7 655.42,267.2 660.42,268.5 665.41,269.8 670.4,270.4 670.4,305.9 665.41,305.9 660.42,305.9 655.42,305.9 650.43,305.9 645.44,305.9 640.45,305.9 635.46,305.9 630.46,305.9 625.47,305.9 620.48,305.9 615.49,305.9 610.5,305.9 605.5,305.5 600.51,304.5 595.52,303.6 590.53,303.2 585.54,302.9 580.54,302.9 575.55,302.9 570.56,302.6 565.57,298.3 560.58,295.6 555.58,295 550.59,294.7 545.6,294.7" fill="#fdd4d5" fill-opacity="0.65"/>
<polyline points="545.6,254.8 550.59,262.9 555.58,264.2 560.58,265.3 565.57,268.1 570.56,260 575.55,263.4 580.54,267.6 585.54,271.4 590.53,271 595.52,277.3 600.51,279.7 605.5,284.5 610.5,288.2 615.49,289.9 620.48,291.9 625.47,291 630.46,291.9 635.46,291.6 640.45,291.4 645.44,292.7 650.43,291.4 655.42,291.4 660.42,289.9 665.41,288.9 670.4,290.8" fill="none" stroke="#262626" stroke-width="1.3" stroke-linejoin="round"/>
<polyline points="545.6,240.3 550.59,246 555.58,250.3 560.58,250.3 565.57,252.9 570.56,265.4 575.55,267.5 580.54,269 585.54,270.7 590.53,270.9 595.52,271.3 600.51,273.4 605.5,275.2 610.5,276.9 615.49,278.6 620.48,280.3 625.47,281.7 630.46,283 635.46,283.5 640.45,284.1 645.44,284.6 650.43,285.3 655.42,286 660.42,286.7 665.41,287.5 670.4,288.6" fill="none" stroke="#f22b2b" stroke-width="1.3" stroke-linejoin="round"/>
<rect x="545.6" y="185.7" width="124.8" height="122.15" fill="none" stroke="#9a9a9a" stroke-width="1.1"/>
<line x1="543" x2="545.6" y1="277.5" y2="277.5" stroke="#333333" stroke-width="1.1"/>
<text x="541.7" y="280" text-anchor="end" font-size="7" fill="#4d4d4d">0.08</text>
<line x1="543" x2="545.6" y1="245.4" y2="245.4" stroke="#333333" stroke-width="1.1"/>
<text x="541.7" y="247.9" text-anchor="end" font-size="7" fill="#4d4d4d">0.12</text>
<line x1="543" x2="545.6" y1="213.35" y2="213.35" stroke="#333333" stroke-width="1.1"/>
<text x="541.7" y="215.85" text-anchor="end" font-size="7" fill="#4d4d4d">0.16</text>
<line y1="307.85" y2="310.45" x1="565.57" x2="565.57" stroke="#333333" stroke-width="1.1"/>
<text x="565.57" y="317.15" text-anchor="middle" font-size="7" fill="#4d4d4d">1990</text>
<line y1="307.85" y2="310.45" x1="590.53" x2="590.53" stroke="#333333" stroke-width="1.1"/>
<text x="590.53" y="317.15" text-anchor="middle" font-size="7" fill="#4d4d4d">1995</text>
<line y1="307.85" y2="310.45" x1="615.49" x2="615.49" stroke="#333333" stroke-width="1.1"/>
<text x="615.49" y="317.15" text-anchor="middle" font-size="7" fill="#4d4d4d">2000</text>
<line y1="307.85" y2="310.45" x1="640.45" x2="640.45" stroke="#333333" stroke-width="1.1"/>
<text x="640.45" y="317.15" text-anchor="middle" font-size="7" fill="#4d4d4d">2005</text>
<line y1="307.85" y2="310.45" x1="665.41" x2="665.41" stroke="#333333" stroke-width="1.1"/>
<text x="665.41" y="317.15" text-anchor="middle" font-size="7" fill="#4d4d4d">2010</text>
<text x="608" y="327.45" text-anchor="middle" font-size="8.6" fill="#000">Year</text>
<text transform="translate(522,246.78) rotate(-90)" text-anchor="middle" font-size="8.7" fill="#000">Density</text>
<text x="539.5" y="180.1" font-size="10.4" fill="#000">h</text>
<rect x="606.2" y="190.1" width="54.1" height="45.8" fill="#fff" stroke="#1a1a1a" stroke-width="1"/>
<text x="610.6" y="201.2" font-size="8.7" fill="#000">Network</text>
<line x1="611.9" x2="622.7" y1="210.8" y2="210.8" stroke="#262626" stroke-width="1.4"/>
<text x="625.8" y="213.8" font-size="7.1" fill="#000">Empirical</text>
<line x1="611.9" x2="622.7" y1="224.6" y2="224.6" stroke="#f22b2b" stroke-width="1.4"/>
<text x="625.8" y="227.3" font-size="7.1" fill="#000">Model</text>
</svg></body></html>
